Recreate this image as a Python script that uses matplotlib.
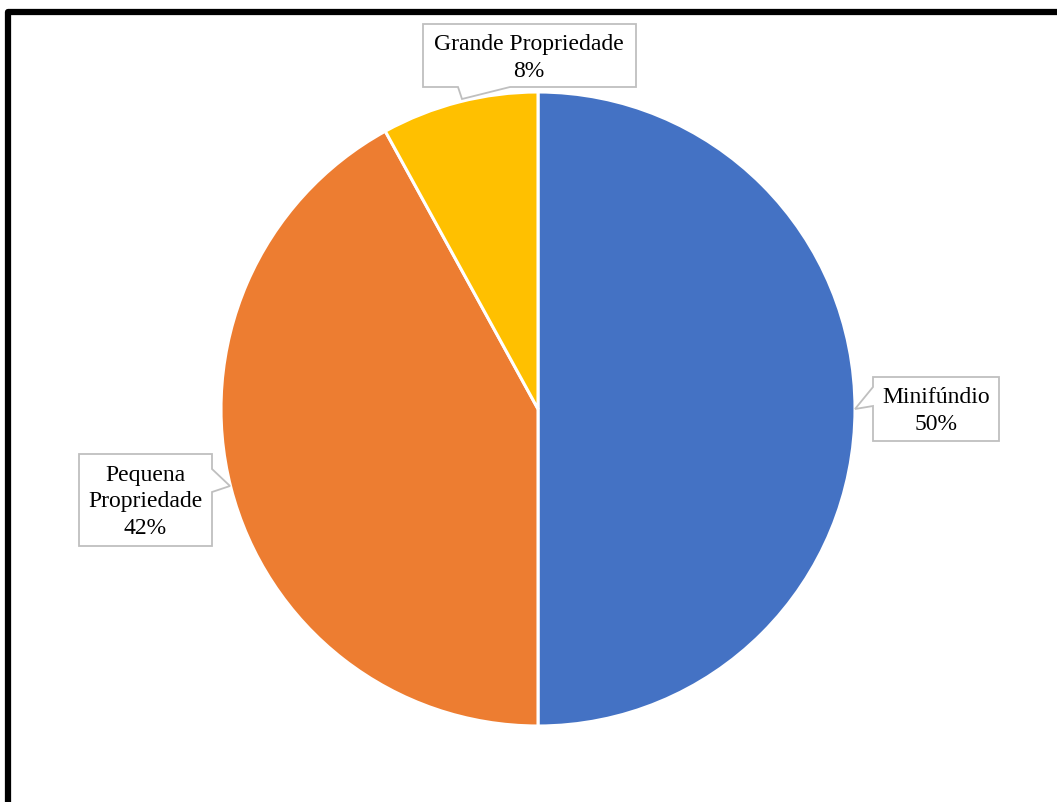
import matplotlib.pyplot as plt
from matplotlib.patches import Polygon
from matplotlib.lines import Line2D

categories = ['Minifúndio', 'Pequena\nPropriedade', 'Grande Propriedade']
shares = [50, 42, 8]
colors = ['#4472C4', '#ED7D31', '#FFC000']

W, H = 1057, 803
fig = plt.figure(figsize=(W / 100, H / 100), dpi=100)
ax = fig.add_axes([0, 0, 1, 1])
ax.set_xlim(0, W)
ax.set_ylim(0, H)
ax.set_aspect('equal')
ax.axis('off')

def Y(y):
    return H - y

ax.pie(shares, colors=colors, startangle=90, counterclock=False,
       center=(538, Y(410)), radius=317,
       wedgeprops=dict(edgecolor='white', linewidth=2.2))
ax.set_xlim(0, W)
ax.set_ylim(0, H)

# callout boxes: (outline in image pixels, text centre)
callouts = [
    ([(873, 378), (999, 378), (999, 442), (873, 442), (873, 407), (855, 410), (873, 388)], (936, 411)),
    ([(79, 455), (212, 455), (212, 470), (230, 487), (212, 493), (212, 547), (79, 547)], (145, 502)),
    ([(423, 25), (636, 25), (636, 88), (510, 88), (462, 100), (458, 88), (423, 88)], (529, 58)),
]
for (pts, (tx, ty)), name, val in zip(callouts, categories, shares):
    poly = Polygon([(x, Y(y)) for x, y in pts], closed=True, facecolor='white',
                   edgecolor='#BFBFBF', linewidth=1.3, zorder=5)
    ax.add_patch(poly)
    ax.text(tx, Y(ty), f'{name}\n{val}%', ha='center', va='center',
            fontsize=17, family='Liberation Serif', linespacing=1.32, zorder=6)

# frame (left and top edges only are visible)
fig.add_artist(Line2D([8 / W, 8 / W, 1], [0, 1 - 13 / H, 1 - 13 / H],
                      color='black', linewidth=4.5, solid_joinstyle='round',
                      transform=fig.transFigure))

fig.savefig('out.png', dpi=100)
